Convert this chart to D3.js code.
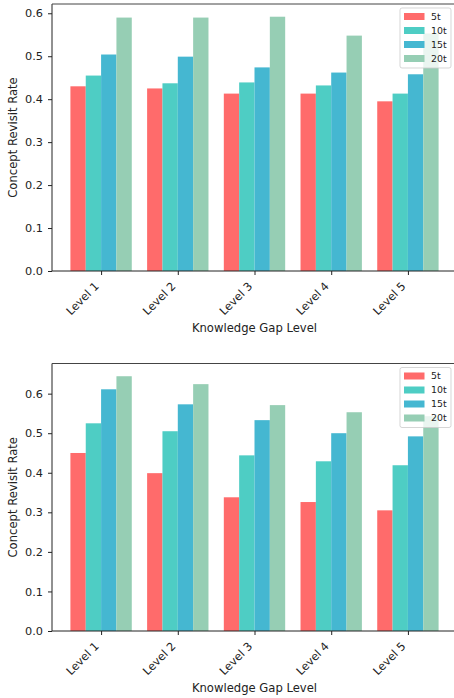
<!DOCTYPE html>
<html lang="en">
<head>
    <meta charset="UTF-8">
    <title>Concept Revisit Rate</title>
    <style>
        body { margin: 0; background: #fff; }
        svg { display: block; }
        svg text { font-family: "DejaVu Sans", sans-serif; }
    </style>
</head>
<body>
    <script src="https://cdn.jsdelivr.net/npm/d3@7/dist/d3.min.js"></script>
    <script>
        const W = 454;
        const H = 698;

        // categories and series
        const levels = ["Level 1", "Level 2", "Level 3", "Level 4", "Level 5"];
        const series = ["5t", "10t", "15t", "20t"];
        const colors = ["#FF6B6B", "#4ECDC4", "#45B7D1", "#96CEB4"];

        // top panel values, one array per series
        const top5t  = [0.430, 0.425, 0.413, 0.413, 0.395];
        const top10t = [0.455, 0.437, 0.439, 0.432, 0.413];
        const top15t = [0.504, 0.499, 0.474, 0.462, 0.458];
        const top20t = [0.590, 0.590, 0.592, 0.548, 0.553];

        // bottom panel values
        const bot5t  = [0.450, 0.399, 0.338, 0.326, 0.305];
        const bot10t = [0.525, 0.505, 0.444, 0.429, 0.419];
        const bot15t = [0.611, 0.573, 0.533, 0.500, 0.492];
        const bot20t = [0.644, 0.624, 0.571, 0.553, 0.543];

        const yTicks = [0, 0.1, 0.2, 0.3, 0.4, 0.5, 0.6];

        const svg = d3.select("body")
            .append("svg")
            .attr("width", W)
            .attr("height", H);

        function drawPanel(values, box) {
            const barW = 0.2;
            const maxV = d3.max(values.flat());

            // matplotlib style: x margin 5% of the bar extent, y headroom 5%
            const x = d3.scaleLinear()
                .domain([-0.64, levels.length - 1 + 0.64])
                .range([box.left, box.right]);
            const y = d3.scaleLinear()
                .domain([0, maxV * 1.05])
                .range([box.bottom, box.top]);

            const g = svg.append("g");

            // bars
            series.forEach((s, si) => {
                const off = (si - 1.5) * barW;
                g.selectAll(null)
                    .data(values[si])
                    .join("rect")
                    .attr("x", (d, i) => x(i + off - barW / 2))
                    .attr("y", d => y(d))
                    .attr("width", x(barW) - x(0))
                    .attr("height", d => y(0) - y(d))
                    .attr("fill", colors[si]);
            });

            // y axis
            const yAxis = g.append("g")
                .attr("transform", `translate(${box.left},0)`)
                .call(d3.axisLeft(y).tickValues(yTicks).tickFormat(d3.format(".1f")).tickSize(4).tickPadding(5));
            yAxis.select(".domain").remove();
            yAxis.selectAll("text")
                .attr("font-family", "DejaVu Sans")
                .attr("font-size", 11.3)
                .attr("fill", "#222");
            yAxis.selectAll("line").attr("stroke", "#222");

            // x axis, labels rotated 45deg with their end at the tick
            const xAxis = g.append("g")
                .attr("transform", `translate(0,${box.bottom})`)
                .call(d3.axisBottom(x).tickValues(d3.range(levels.length)).tickFormat(i => levels[i]).tickSize(4));
            xAxis.select(".domain").remove();
            xAxis.selectAll("line").attr("stroke", "#222");
            xAxis.selectAll("text")
                .attr("font-family", "DejaVu Sans")
                .attr("font-size", 11.3)
                .attr("fill", "#222")
                .attr("text-anchor", "end")
                .attr("x", 0)
                .attr("y", 0)
                .attr("dy", null)
                .attr("transform", "translate(-2,16) rotate(-45)");

            // spines
            g.append("line").attr("x1", box.left).attr("x2", box.left)
                .attr("y1", box.top).attr("y2", box.bottom).attr("stroke", "#222");
            g.append("line").attr("x1", box.left).attr("x2", box.right)
                .attr("y1", box.bottom).attr("y2", box.bottom).attr("stroke", "#222");
            g.append("line").attr("x1", box.left).attr("x2", box.right)
                .attr("y1", box.top).attr("y2", box.top).attr("stroke", "#444");
            g.append("line").attr("x1", box.right).attr("x2", box.right)
                .attr("y1", box.top).attr("y2", box.bottom).attr("stroke", "#444");

            // axis titles
            g.append("text")
                .attr("x", (box.left + box.right) / 2)
                .attr("y", box.bottom + 61)
                .attr("text-anchor", "middle")
                .attr("font-size", 11.6)
                .attr("fill", "#222")
                .text("Knowledge Gap Level");
            g.append("text")
                .attr("transform", `translate(17,${(box.top + box.bottom) / 2}) rotate(-90)`)
                .attr("text-anchor", "middle")
                .attr("font-size", 11.6)
                .attr("fill", "#222")
                .text("Concept Revisit Rate");

            // legend
            const lg = g.append("g").attr("transform", `translate(400,${box.top + 4})`);
            lg.append("rect")
                .attr("width", 51).attr("height", 60)
                .attr("rx", 2)
                .attr("fill", "white").attr("fill-opacity", 0.8)
                .attr("stroke", "#ccc").attr("stroke-opacity", 0.8);
            series.forEach((s, si) => {
                lg.append("rect")
                    .attr("x", 4).attr("y", 8.5 + si * 14 - 3.5)
                    .attr("width", 20.5).attr("height", 7)
                    .attr("fill", colors[si]);
                lg.append("text")
                    .attr("x", 31).attr("y", 8.5 + si * 14)
                    .attr("dy", "0.35em")
                    .attr("font-size", 9.4)
                    .attr("fill", "#222")
                    .text(s);
            });
        }

        drawPanel([top5t, top10t, top15t, top20t], { left: 52, right: 457, top: 4, bottom: 271 });
        drawPanel([bot5t, bot10t, bot15t, bot20t], { left: 52, right: 457, top: 363.5, bottom: 631 });
    </script>
</body>
</html>
